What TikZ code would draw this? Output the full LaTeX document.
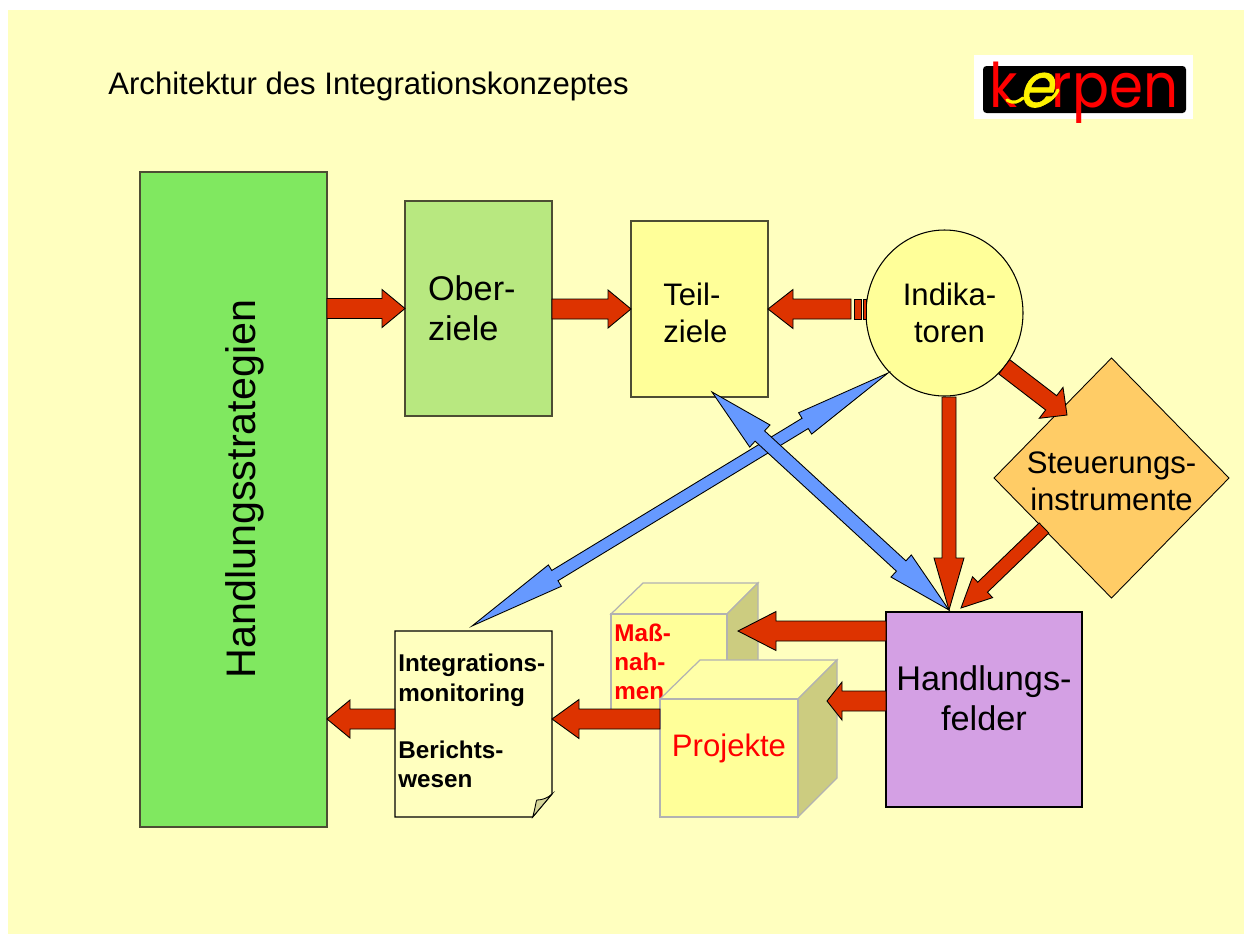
\documentclass[tikz,border=0pt]{standalone}
\usepackage{fontspec}
\setmainfont{Liberation Sans}
\newfontfamily\logofont{Poppins}
\newfontfamily\logoslant[FakeSlant=.3,FakeBold=1]{Poppins}
\usetikzlibrary{calc,shapes.geometric}
\definecolor{pagebg}{HTML}{FFFFBF}
\definecolor{boxyel}{HTML}{FFFF99}
\definecolor{stratgreen}{HTML}{80E860}
\definecolor{zielgreen}{HTML}{B8E880}
\definecolor{steuerorange}{HTML}{FFCC66}
\definecolor{feldpurple}{HTML}{D4A0E4}
\definecolor{arrowred}{HTML}{DD3300}
\definecolor{arrowblue}{HTML}{6699FF}
\definecolor{cubeside}{HTML}{CCCC80}
\definecolor{cubeedge}{HTML}{B2B2B2}
\definecolor{boxedge}{HTML}{4D4D33}
\newcommand{\px}{0.02cm}
% block arrow: style, start, tip, half shaft, half head, head length
\newcommand{\blockarrow}[6]{
  \coordinate (ba) at (#2);
  \coordinate (bt) at (#3);
  \coordinate (bh) at ($(bt)!#6*\px!(ba)$);
  \draw[#1] ($(ba)!#4*\px!90:(bt)$) -- ($(bh)!#4*\px!90:(bt)$) -- ($(bh)!#5*\px!90:(bt)$) -- (bt)
    -- ($(bh)!#5*\px!-90:(bt)$) -- ($(bh)!#4*\px!-90:(bt)$) -- ($(ba)!#4*\px!-90:(bt)$) -- cycle;
}
% the same with a head on both ends
\newcommand{\doublearrow}[6]{
  \coordinate (ba) at (#2);
  \coordinate (bt) at (#3);
  \coordinate (bh) at ($(bt)!#6*\px!(ba)$);
  \coordinate (bg) at ($(ba)!#6*\px!(bt)$);
  \draw[#1] (ba) -- ($(bg)!#5*\px!90:(bt)$) -- ($(bg)!#4*\px!90:(bt)$) -- ($(bh)!#4*\px!90:(bt)$)
    -- ($(bh)!#5*\px!90:(bt)$) -- (bt) -- ($(bh)!#5*\px!-90:(bt)$) -- ($(bh)!#4*\px!-90:(bt)$)
    -- ($(bg)!#4*\px!-90:(bt)$) -- ($(bg)!#5*\px!-90:(bt)$) -- cycle;
}
\tikzset{
  bigtext/.style={font=\fontsize{19.5pt}{22.8pt}\selectfont},
  midtext/.style={font=\fontsize{17.7pt}{21.2pt}\selectfont},
  boldtext/.style={font=\fontsize{13.8pt}{16.6pt}\selectfont\bfseries},
  box/.style={draw=boxedge,line width=.6pt,inner sep=0pt,outer sep=0pt,align=left},
  boxtext/.style={inner sep=0pt,align=left,anchor=west},
  cubeface/.style={draw=cubeedge,line width=.7pt},
  redarrow/.style={draw=black,line width=.5pt,fill=arrowred},
  bluearrow/.style={draw=black,line width=.5pt,fill=arrowblue}
}
\begin{document}
\begin{tikzpicture}[x=0.02cm,y=-0.02cm]
  \useasboundingbox (0,0) rectangle (1244,934);
  \fill[pagebg] (8,10) rectangle (1244,934);
  % Title and logo
  \node[anchor=base west,inner sep=0pt,font=\fontsize{17.7pt}{20pt}\selectfont] (title) at (108,94) {Architektur des Integrationskonzeptes};
  \node[fill=white,minimum width=219*\px,minimum height=64*\px,inner sep=0pt] (logobg) at (1083.5,87) {};
  \node[fill=black,rounded corners=2pt,minimum width=203*\px,minimum height=47*\px,inner sep=0pt] (logobar) at (1084.5,89.5) {};
  \node[anchor=base,inner sep=0pt,text=red,xscale=.89,font=\logofont\fontsize{35pt}{35pt}\selectfont] (logo) at (1084,107) {k\textcolor{yellow}{\logoslant e}rpen};
  \draw[yellow,line width=1.8pt,line cap=round] (1007,100) .. controls (1014,104) and (1018,102) .. (1023,98);
  \draw[yellow,line width=1.8pt,line cap=round] (1038,105) .. controls (1047,104) and (1055,97) .. (1058,90);
  % Boxes
  \node[box,fill=stratgreen,minimum width=187*\px,minimum height=655*\px] (strat) at (233.5,499.5) {};
  \node[rotate=90,inner sep=0pt,font=\fontsize{23.5pt}{26pt}\selectfont] (strattext) at (245,489) {Handlungsstrategien};
  \node[box,fill=zielgreen,bigtext,text width=101*\px,inner xsep=23*\px,minimum height=215*\px] (ober) at (478.5,308.5) {Ober-\\ziele};
  \node[box,fill=boxyel,minimum width=137*\px,minimum height=176*\px,
    label={[boxtext,midtext,xshift=32*\px,yshift=-4*\px]west:Teil-\\ziele}] (teil) at (699.5,309) {};
  \node[draw=black,line width=.6pt,fill=boxyel,ellipse,inner sep=0pt,outer sep=0pt,minimum width=157*\px,minimum height=166*\px,
    label={[midtext,align=center,inner sep=0pt,xshift=5*\px]center:Indika-\\toren}] (indik) at (944.5,313) {};
  \node[draw=black,line width=.5pt,fill=steuerorange,diamond,inner sep=0pt,outer sep=0pt,minimum width=235*\px,minimum height=240*\px,
    label={[midtext,align=center,inner sep=0pt,yshift=-3*\px]center:Steuerungs-\\instrumente}] (steuer) at (1111.5,478) {};
  \node[box,draw=black,fill=feldpurple,minimum width=196*\px,minimum height=195*\px,
    label={[bigtext,align=center,inner sep=0pt,yshift=11*\px]center:Handlungs-\\felder}] (felder) at (984,709.5) {};
  % Cubes
  \draw[cubeface,fill=boxyel!60!pagebg] (611,614) -- (643,583) -- (758,583) -- (727,614) -- cycle;
  \draw[cubeface,fill=cubeside] (727,614) -- (758,583) -- (758,690) -- (727,718) -- cycle;
  \node[cubeface,fill=boxyel,inner sep=0pt,outer sep=0pt,minimum width=116*\px,minimum height=104*\px,
    label={[boxtext,boldtext,text=red,xshift=3*\px,yshift=4*\px]west:Maß-\\nah-\\men}] (mass) at (669,666) {};
  \coordinate (massin) at (738,631);
  \draw[cubeface,fill=boxyel!60!pagebg] (660,699) -- (700,660) -- (837,660) -- (798,699) -- cycle;
  \draw[cubeface,fill=cubeside] (798,699) -- (837,660) -- (837,778) -- (798,817) -- cycle;
  \node[cubeface,fill=boxyel,inner sep=0pt,outer sep=0pt,minimum width=138*\px,minimum height=118*\px,
    label={[midtext,text=red,inner sep=0pt,yshift=10*\px]center:Projekte}] (proj) at (729,758) {};
  \coordinate (projin) at (827,701);
  % Report page
  \node[inner sep=0pt,outer sep=0pt,minimum width=157*\px,minimum height=186*\px,
    label={[boxtext,boldtext,xshift=3*\px,yshift=3*\px]west:Integrations-\\monitoring\\[16pt]Berichts-\\wesen}] (doc) at (473.5,724) {};
  \draw[line width=.6pt] (doc.north west) -- (doc.north east) -- (552,794) -- (532.7,817) -- (doc.south west) -- cycle;
  \draw[line width=.5pt,fill=cubeside!80!white] (532.7,817) .. controls (536,805) and (536,800) .. (537,800) .. controls (542,800) and (548,798) .. (552,794) -- cycle;
  % Red arrows
  \blockarrow{redarrow}{strat.east |- ober.west}{ober.west}{10}{19}{23}
  \blockarrow{redarrow}{ober.east |- teil.west}{teil.west}{10}{19}{23}
  \coordinate (indikstub) at (851,309);
  \blockarrow{redarrow}{indikstub}{teil.east}{10}{19.5}{25}
  \foreach \a/\b in {854/861,863/866}
    \draw[redarrow] (\a,299) rectangle (\b,319);
  \coordinate (steuertip) at (1067,415);
  \blockarrow{redarrow}{indik.-42}{steuertip}{9}{19.5}{20}
  \coordinate (felderout) at (949,397);
  \coordinate (feldertip) at (949,610);
  \blockarrow{redarrow}{felderout}{feldertip}{7}{15}{52}
  \coordinate (steuerout) at (1044,528);
  \coordinate (feldertop) at (961,608);
  \blockarrow{redarrow}{steuerout}{feldertop}{7}{14.5}{30}
  \blockarrow{redarrow}{felder.west |- massin}{massin}{10}{19.5}{38}
  \blockarrow{redarrow}{felder.west |- projin}{projin}{10}{19}{15}
  \coordinate (projout) at (660,719);
  \blockarrow{redarrow}{projout}{doc.east |- projout}{10}{19.5}{27}
  \blockarrow{redarrow}{doc.west |- projout}{strat.east |- projout}{10}{19}{23}
  % Blue arrows
  \coordinate (reporttip) at (472,626);
  \coordinate (indiktip) at (888,373);
  \doublearrow{bluearrow}{reporttip}{indiktip}{6}{12.5}{97}
  \coordinate (teiltip) at (712,392);
  \doublearrow{bluearrow}{teiltip}{feldertip}{7}{15}{65}
\end{tikzpicture}
\end{document}
